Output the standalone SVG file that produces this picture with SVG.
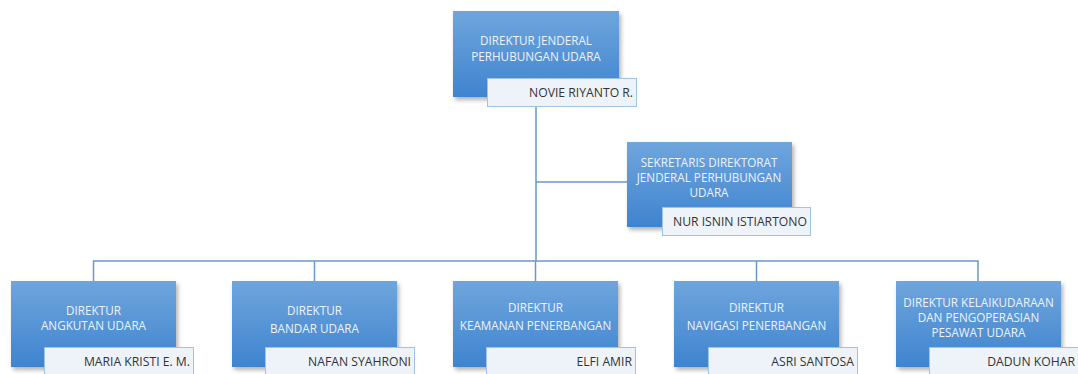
<svg xmlns="http://www.w3.org/2000/svg" width="1078" height="374" viewBox="0 0 1078 374">
<defs>
<linearGradient id="bg" x1="0" y1="0" x2="0" y2="1">
<stop offset="0" stop-color="#6fa5dd"/>
<stop offset="1" stop-color="#3f84cf"/>
</linearGradient>
<filter id="sh" x="-10%" y="-10%" width="125%" height="130%">
<feDropShadow dx="2" dy="3" stdDeviation="2" flood-color="#000" flood-opacity="0.3"/>
</filter>
</defs>
<style>
.box{fill:url(#bg);filter:url(#sh)}
.nm{fill:#eef3fa;stroke:#9ec3e8;stroke-width:1}
.t{font-family:"Open Sans","Noto Sans",sans-serif;font-size:11.7px;fill:#eef3fb;text-anchor:middle}
.n{font-family:"Open Sans","Noto Sans",sans-serif;font-size:12.2px;fill:#333;text-anchor:end}
.ln{stroke:#6b98c8;stroke-width:1.5;fill:none}
</style>
<rect width="1078" height="374" fill="#fff"/>
<g id="connectors">
<path class="ln" d="M536 106V261M536 182H627M93.5 281V261H978V281M314.5 261V281M535.5 261V281M756.5 261V281"/>
</g>
<g id="n0">
<rect class="box" x="453" y="11" width="166" height="86"/>
<text class="t" x="536" y="45">DIREKTUR JENDERAL</text>
<text class="t" x="536" y="61">PERHUBUNGAN UDARA</text>
<rect class="nm" x="487.5" y="78.5" width="149" height="28"/>
<text class="n" x="633" y="97">NOVIE RIYANTO R.</text>
</g>
<g id="n1">
<rect class="box" x="627" y="142" width="165" height="85"/>
<text class="t" x="709" y="167">SEKRETARIS DIREKTORAT</text>
<text class="t" x="709" y="182">JENDERAL PERHUBUNGAN</text>
<text class="t" x="709" y="197">UDARA</text>
<rect class="nm" x="662.5" y="207.5" width="148" height="28"/>
<text class="n" x="807" y="226">NUR ISNIN ISTIARTONO</text>
</g>
<g id="n2">
<rect class="box" x="11" y="281" width="165" height="86"/>
<text class="t" x="93.5" y="315">DIREKTUR</text>
<text class="t" x="93.5" y="330">ANGKUTAN UDARA</text>
<rect class="nm" x="44.5" y="347.5" width="149" height="28"/>
<text class="n" x="190" y="366">MARIA KRISTI E. M.</text>
</g>
<g id="n3">
<rect class="box" x="232" y="281" width="165" height="86"/>
<text class="t" x="314.5" y="315">DIREKTUR</text>
<text class="t" x="314.5" y="333">BANDAR UDARA</text>
<rect class="nm" x="265.5" y="347.5" width="149" height="28"/>
<text class="n" x="411" y="366">NAFAN SYAHRONI</text>
</g>
<g id="n4">
<rect class="box" x="453" y="281" width="165" height="86"/>
<text class="t" x="535.5" y="312">DIREKTUR</text>
<text class="t" x="535.5" y="330">KEAMANAN PENERBANGAN</text>
<rect class="nm" x="486.5" y="347.5" width="149" height="28"/>
<text class="n" x="632" y="366">ELFI AMIR</text>
</g>
<g id="n5">
<rect class="box" x="674" y="281" width="165" height="86"/>
<text class="t" x="756.5" y="312">DIREKTUR</text>
<text class="t" x="756.5" y="330">NAVIGASI PENERBANGAN</text>
<rect class="nm" x="708.5" y="347.5" width="149" height="28"/>
<text class="n" x="854" y="366">ASRI SANTOSA</text>
</g>
<g id="n6">
<rect class="box" x="896" y="281" width="165" height="86"/>
<text class="t" x="978.5" y="307">DIREKTUR KELAIKUDARAAN</text>
<text class="t" x="978.5" y="322">DAN PENGOPERASIAN</text>
<text class="t" x="978.5" y="337">PESAWAT UDARA</text>
<rect class="nm" x="929.5" y="347.5" width="149" height="28"/>
<text class="n" x="1075" y="366">DADUN KOHAR</text>
</g>
</svg>
